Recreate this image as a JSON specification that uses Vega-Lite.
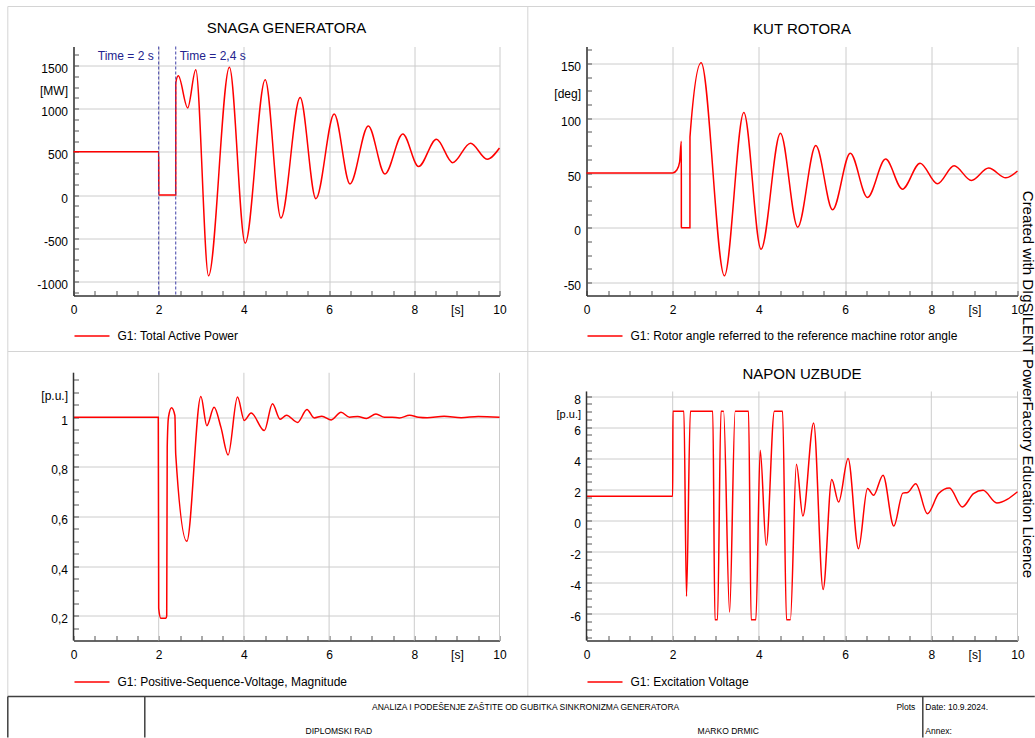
{
  "$schema": "https://vega.github.io/schema/vega-lite/v6.json",
  "padding": {"left": 6.5, "top": 5.5, "right": 0, "bottom": 0},
  "autosize": {"type": "pad"},
  "bounds": "flush",
  "columns": 2,
  "align": {"row": "each", "column": "each"},
  "spacing": {"row": 56, "column": 87},
  "resolve": {"scale": {"color": "independent", "x": "independent", "y": "independent"}, "legend": {"color": "independent"}},
  "config": {
    "view": {"stroke": null},
    "font": "Liberation Sans",
    "axis": {"labelFont": "Liberation Sans", "labelFontSize": 12, "labelColor": "#000000", "domainColor": "#333333", "domainWidth": 1.5, "gridColor": "#cccccc", "gridWidth": 1, "tickColor": "#555555", "tickWidth": 1},
    "title": {"font": "Liberation Sans", "fontSize": 15, "fontWeight": "normal", "color": "#000000", "anchor": "middle"},
    "legend": {"labelFont": "Liberation Sans", "labelFontSize": 12, "labelColor": "#000000", "labelLimit": 0}
  },
  "concat": [
    {
      "width": 426, "height": 249,
      "title": {"text": "SNAGA GENERATORA", "offset": 10},
      "resolve": {"axis": {"x": "independent", "y": "independent"}},
      "layer": [
        {
          "data": {"values": [
            {"t":0,"v":500},{"t":2,"v":500},{"t":2.001,"v":0},{"t":2.4,"v":0},{"t":2.401,"v":1300},{"t":2.46,"v":1380},{"t":2.68,"v":1009},{"t":2.87,"v":1450},{"t":3.17,"v":-935},{"t":3.66,"v":1480},{"t":4.03,"v":-557},{"t":4.5,"v":1334},{"t":4.87,"v":-267},{"t":5.32,"v":1129},{"t":5.69,"v":-43},{"t":6.12,"v":939},{"t":6.49,"v":128},{"t":6.92,"v":800},{"t":7.31,"v":244},{"t":7.73,"v":707},{"t":8.1,"v":329},{"t":8.52,"v":646},{"t":8.9,"v":375},{"t":9.32,"v":599},{"t":9.71,"v":414},{"t":10,"v":545}
          ]},
          "mark": {"type": "line", "interpolate": "monotone", "strokeWidth": 1.5},
          "encoding": {
            "x": {"field": "t", "type": "quantitative", "scale": {"domain": [0, 10], "nice": false, "zero": false},
              "axis": {"orient": "bottom", "values": [0,2,4,6,8,9,10], "labelExpr": "datum.value == 9 ? '[s]' : toString(datum.value)", "grid": true, "gridOpacity": {"condition": {"test": "datum.value == 9", "value": 0}, "value": 1}, "ticks": false, "labelPadding": 9, "labelFlush": false, "labelOverlap": false, "title": null}},
            "y": {"field": "v", "type": "quantitative", "scale": {"domain": [-1164, 1720], "nice": false, "zero": false},
              "axis": {"orient": "left", "values": [-1000,-500,0,500,1000,1250,1500], "labelExpr": "datum.value == 1250 ? '[MW]' : toString(datum.value)", "grid": true, "gridOpacity": {"condition": {"test": "datum.value == 1250", "value": 0}, "value": 1}, "ticks": false, "labelPadding": 6, "labelOffset": 3, "labelFlush": false, "labelOverlap": false, "title": null}},
            "color": {"datum": "G1: Total Active Power", "scale": {"range": ["#ff0000"]},
              "legend": {"orient": "none", "legendX": 0, "legendY": 271, "title": null, "symbolType": "stroke", "symbolSize": 1225, "symbolStrokeWidth": 1.5, "labelOffset": 7, "padding": 0}}
          }
        },
        {
          "data": {"values": [{}]},
          "mark": {"type": "point", "opacity": 0},
          "encoding": {
            "x": {"datum": 5, "type": "quantitative", "axis": {"orient": "bottom", "values": [0,0.5,1,1.5,2,2.5,3,3.5,4,4.5,5,5.5,6,6.5,7,7.5,8,8.5,9,9.5,10], "labels": false, "domain": false, "grid": false, "ticks": true, "tickSize": -5, "title": null}},
            "y": {"datum": 0, "type": "quantitative", "axis": {"orient": "left", "values": [-1125,-1000,-875,-750,-625,-500,-375,-250,-125,0,125,250,375,500,625,750,875,1000,1125,1250,1375,1500,1625], "labels": false, "domain": false, "grid": false, "ticks": true, "tickSize": -5, "title": null}}
          }
        },
        {
          "data": {"values": [{"t": 2}, {"t": 2.4}]},
          "mark": {"type": "rule", "color": "#4040a8", "strokeWidth": 1, "strokeDash": [3, 2]},
          "encoding": {"x": {"field": "t", "type": "quantitative", "axis": null}}
        },
        {
          "data": {"values": [{"t": 2, "v": 1608, "label": "Time = 2 s"}]},
          "mark": {"type": "text", "align": "right", "baseline": "middle", "dx": -5, "fontSize": 12, "color": "#23238e"},
          "encoding": {"x": {"field": "t", "type": "quantitative", "axis": null}, "y": {"field": "v", "type": "quantitative", "axis": null}, "text": {"field": "label"}}
        },
        {
          "data": {"values": [{"t": 2.4, "v": 1608, "label": "Time = 2,4 s"}]},
          "mark": {"type": "text", "align": "left", "baseline": "middle", "dx": 4, "fontSize": 12, "color": "#23238e"},
          "encoding": {"x": {"field": "t", "type": "quantitative", "axis": null}, "y": {"field": "v", "type": "quantitative", "axis": null}, "text": {"field": "label"}}
        }
      ]
    },
    {
      "width": 431, "height": 249,
      "title": {"text": "KUT ROTORA", "offset": 10},
      "resolve": {"axis": {"x": "independent", "y": "independent"}},
      "layer": [
        {
          "data": {"values": [
            {"t":0,"v":50},{"t":2,"v":50},{"t":2.1,"v":53},{"t":2.16,"v":60},{"t":2.2,"v":79},{"t":2.201,"v":0},{"t":2.4,"v":0},{"t":2.401,"v":83},{"t":2.66,"v":150.6},{"t":3.2,"v":-43.8},{"t":3.65,"v":105.3},{"t":4.05,"v":-19.5},{"t":4.5,"v":86.4},{"t":4.9,"v":0.6},{"t":5.32,"v":75.1},{"t":5.71,"v":16.4},{"t":6.12,"v":68.1},{"t":6.52,"v":27.7},{"t":6.94,"v":62.7},{"t":7.33,"v":35.3},{"t":7.74,"v":59},{"t":8.14,"v":40.2},{"t":8.53,"v":56.6},{"t":8.93,"v":43.2},{"t":9.33,"v":54.5},{"t":9.73,"v":45.6},{"t":10,"v":51.8}
          ]},
          "mark": {"type": "line", "interpolate": "monotone", "strokeWidth": 1.5},
          "encoding": {
            "x": {"field": "t", "type": "quantitative", "scale": {"domain": [0, 10], "nice": false, "zero": false},
              "axis": {"orient": "bottom", "values": [0,2,4,6,8,9,10], "labelExpr": "datum.value == 9 ? '[s]' : toString(datum.value)", "grid": true, "gridOpacity": {"condition": {"test": "datum.value == 9", "value": 0}, "value": 1}, "ticks": false, "labelPadding": 9, "labelFlush": false, "labelOverlap": false, "title": null}},
            "y": {"field": "v", "type": "quantitative", "scale": {"domain": [-61.8, 165.5], "nice": false, "zero": false},
              "axis": {"orient": "left", "values": [-50,0,50,100,125,150], "labelExpr": "datum.value == 125 ? '[deg]' : toString(datum.value)", "grid": true, "gridOpacity": {"condition": {"test": "datum.value == 125", "value": 0}, "value": 1}, "ticks": false, "labelPadding": 6, "labelOffset": 3, "labelFlush": false, "labelOverlap": false, "title": null}},
            "color": {"datum": "G1: Rotor angle referred to the reference machine rotor angle", "scale": {"range": ["#ff0000"]},
              "legend": {"orient": "none", "legendX": 0, "legendY": 271, "title": null, "symbolType": "stroke", "symbolSize": 1225, "symbolStrokeWidth": 1.5, "labelOffset": 7, "padding": 0}}
          }
        },
        {
          "data": {"values": [{}]},
          "mark": {"type": "point", "opacity": 0},
          "encoding": {
            "x": {"datum": 5, "type": "quantitative", "axis": {"orient": "bottom", "values": [0,0.5,1,1.5,2,2.5,3,3.5,4,4.5,5,5.5,6,6.5,7,7.5,8,8.5,9,9.5,10], "labels": false, "domain": false, "grid": false, "ticks": true, "tickSize": -5, "title": null}},
            "y": {"datum": 0, "type": "quantitative", "axis": {"orient": "left", "values": [-50,-37.5,-25,-12.5,0,12.5,25,37.5,50,62.5,75,87.5,100,112.5,125,137.5,150,162.5], "labels": false, "domain": false, "grid": false, "ticks": true, "tickSize": -5, "title": null}}
          }
        }
      ]
    },
    {
      "width": 426, "height": 289,
      "resolve": {"axis": {"x": "independent", "y": "independent"}},
      "layer": [
        {
          "data": {"values": [{"g": 0}, {"g": 2}, {"g": 4}, {"g": 6}, {"g": 8}, {"g": 10}]},
          "mark": {"type": "rule", "color": "#cccccc", "strokeWidth": 1},
          "encoding": {"x": {"field": "g", "type": "quantitative", "axis": null}, "y": {"datum": 0.1005, "type": "quantitative", "axis": null}, "y2": {"datum": 1.179}}
        },
        {
          "data": {"values": [
            {"t":0,"v":1},{"t":1.99,"v":1},{"t":2.0,"v":0.23},{"t":2.05,"v":0.19},{"t":2.17,"v":0.19},{"t":2.188,"v":0.2},{"t":2.2,"v":0.88},{"t":2.23,"v":1.0},{"t":2.3,"v":1.038},{"t":2.38,"v":1.007},{"t":2.4,"v":0.85},{"t":2.66,"v":0.5},{"t":2.99,"v":1.083},{"t":3.13,"v":0.966},{"t":3.3,"v":1.04},{"t":3.46,"v":0.96},{"t":3.63,"v":0.848},{"t":3.85,"v":1.081},{"t":4.01,"v":0.987},{"t":4.17,"v":1.017},{"t":4.48,"v":0.946},{"t":4.67,"v":1.054},{"t":4.85,"v":0.992},{"t":5.0,"v":1.008},{"t":5.26,"v":0.979},{"t":5.48,"v":1.031},{"t":5.65,"v":0.997},{"t":5.83,"v":1.004},{"t":6.05,"v":0.989},{"t":6.28,"v":1.02},{"t":6.48,"v":1.0},{"t":6.67,"v":1.003},{"t":6.88,"v":0.995},{"t":7.1,"v":1.013},{"t":7.3,"v":1.0},{"t":7.48,"v":1.0},{"t":7.65,"v":0.997},{"t":7.89,"v":1.008},{"t":8.1,"v":1.0},{"t":8.3,"v":0.998},{"t":8.7,"v":1.004},{"t":9.1,"v":0.998},{"t":9.5,"v":1.003},{"t":10,"v":1.0}
          ]},
          "mark": {"type": "line", "interpolate": "monotone", "strokeWidth": 1.5},
          "encoding": {
            "x": {"field": "t", "type": "quantitative", "scale": {"domain": [0, 10], "nice": false, "zero": false},
              "axis": {"orient": "bottom", "values": [0,2,4,6,8,9,10], "labelExpr": "datum.value == 9 ? '[s]' : toString(datum.value)", "grid": false, "ticks": false, "labelPadding": 9, "labelFlush": false, "labelOverlap": false, "title": null}},
            "y": {"field": "v", "type": "quantitative", "scale": {"domain": [0.1005, 1.2647], "nice": false, "zero": false},
              "axis": {"orient": "left", "values": [0.2,0.4,0.6,0.8,1,1.1], "labelExpr": "datum.value == 1.1 ? '[p.u.]' : replace(toString(datum.value), '.', ',')", "grid": true, "gridOpacity": {"condition": {"test": "datum.value == 1.1", "value": 0}, "value": 1}, "domain": false, "ticks": false, "labelPadding": 6, "labelOffset": 3, "labelFlush": false, "labelOverlap": false, "title": null}},
            "color": {"datum": "G1: Positive-Sequence-Voltage, Magnitude", "scale": {"range": ["#ff0000"]},
              "legend": {"orient": "none", "legendX": 0, "legendY": 312, "title": null, "symbolType": "stroke", "symbolSize": 1225, "symbolStrokeWidth": 1.5, "labelOffset": 7, "padding": 0}}
          }
        },
        {
          "data": {"values": [{}]},
          "mark": {"type": "rule", "color": "#333333", "strokeWidth": 1.5},
          "encoding": {"x": {"datum": 0, "type": "quantitative", "axis": {"orient": "bottom", "values": [0,0.5,1,1.5,2,2.5,3,3.5,4,4.5,5,5.5,6,6.5,7,7.5,8,8.5,9,9.5,10], "labels": false, "domain": false, "grid": false, "ticks": true, "tickSize": -5, "title": null}},
            "y": {"datum": 0.1005, "type": "quantitative", "axis": {"orient": "left", "values": [0.15,0.2,0.25,0.3,0.35,0.4,0.45,0.5,0.55,0.6,0.65,0.7,0.75,0.8,0.85,0.9,0.95,1,1.05,1.1,1.15], "labels": false, "domain": false, "grid": false, "ticks": true, "tickSize": -5, "title": null}},
            "y2": {"datum": 1.179}}
        }
      ]
    },
    {
      "width": 431, "height": 289,
      "title": {"text": "NAPON UZBUDE", "offset": -30},
      "resolve": {"axis": {"x": "independent", "y": "independent"}},
      "layer": [
        {
          "data": {"values": [{"g": 0}, {"g": 2}, {"g": 4}, {"g": 6}, {"g": 8}, {"g": 10}]},
          "mark": {"type": "rule", "color": "#cccccc", "strokeWidth": 1},
          "encoding": {"x": {"field": "g", "type": "quantitative", "axis": null}, "y": {"datum": -7.71, "type": "quantitative", "axis": null}, "y2": {"datum": 8.29}}
        },
        {
          "data": {"values": [
            {"t":0,"v":1.56},{"t":2,"v":1.56},{"t":2.005,"v":7.02},{"t":2.26,"v":7.02},{"t":2.32,"v":-4.87},{"t":2.41,"v":7.02},{"t":2.93,"v":7.02},{"t":2.98,"v":-6.37},{"t":3.04,"v":-6.37},{"t":3.12,"v":7.02},{"t":3.18,"v":7.02},{"t":3.32,"v":-5.88},{"t":3.45,"v":7.02},{"t":3.76,"v":7.02},{"t":3.82,"v":-6.37},{"t":3.93,"v":-6.37},{"t":4.03,"v":4.51},{"t":4.17,"v":-1.59},{"t":4.36,"v":7.02},{"t":4.55,"v":7.02},{"t":4.64,"v":-6.37},{"t":4.73,"v":-6.37},{"t":4.87,"v":3.61},{"t":5.02,"v":0.29},{"t":5.27,"v":6.27},{"t":5.49,"v":-4.44},{"t":5.69,"v":2.63},{"t":5.85,"v":1.19},{"t":6.07,"v":3.98},{"t":6.31,"v":-1.81},{"t":6.52,"v":2.05},{"t":6.66,"v":1.62},{"t":6.88,"v":2.91},{"t":7.13,"v":-0.35},{"t":7.34,"v":1.76},{"t":7.45,"v":1.8},{"t":7.64,"v":2.37},{"t":7.91,"v":0.44},{"t":8.17,"v":1.73},{"t":8.42,"v":2.09},{"t":8.72,"v":0.87},{"t":8.98,"v":1.73},{"t":9.2,"v":1.94},{"t":9.52,"v":1.13},{"t":10,"v":1.85}
          ]},
          "mark": {"type": "line", "interpolate": "monotone", "strokeWidth": 1.5},
          "encoding": {
            "x": {"field": "t", "type": "quantitative", "scale": {"domain": [0, 10], "nice": false, "zero": false},
              "axis": {"orient": "bottom", "values": [0,2,4,6,8,9,10], "labelExpr": "datum.value == 9 ? '[s]' : toString(datum.value)", "grid": false, "ticks": false, "labelPadding": 9, "labelFlush": false, "labelOverlap": false, "title": null}},
            "y": {"field": "v", "type": "quantitative", "scale": {"domain": [-7.71, 10.86], "nice": false, "zero": false},
              "axis": {"orient": "left", "values": [-6,-4,-2,0,2,4,6,7,8], "labelExpr": "datum.value == 7 ? '[p.u.]' : toString(datum.value)", "labelFontSize": {"condition": {"test": "datum.value == 7", "value": 11}, "value": 12}, "grid": true, "gridOpacity": {"condition": {"test": "datum.value == 7", "value": 0}, "value": 1}, "domain": false, "ticks": false, "labelPadding": 6, "labelOffset": 3, "labelFlush": false, "labelOverlap": false, "title": null}},
            "color": {"datum": "G1: Excitation Voltage", "scale": {"range": ["#ff0000"]},
              "legend": {"orient": "none", "legendX": 0, "legendY": 312, "title": null, "symbolType": "stroke", "symbolSize": 1225, "symbolStrokeWidth": 1.5, "labelOffset": 7, "padding": 0}}
          }
        },
        {
          "data": {"values": [{}]},
          "mark": {"type": "rule", "color": "#333333", "strokeWidth": 1.5},
          "encoding": {"x": {"datum": 0, "type": "quantitative", "axis": {"orient": "bottom", "values": [0,0.5,1,1.5,2,2.5,3,3.5,4,4.5,5,5.5,6,6.5,7,7.5,8,8.5,9,9.5,10], "labels": false, "domain": false, "grid": false, "ticks": true, "tickSize": -5, "title": null}},
            "y": {"datum": -7.71, "type": "quantitative", "axis": {"orient": "left", "values": [-7.5,-7,-6.5,-6,-5.5,-5,-4.5,-4,-3.5,-3,-2.5,-2,-1.5,-1,-0.5,0,0.5,1,1.5,2,2.5,3,3.5,4,4.5,5,5.5,6,6.5,7,7.5,8], "labels": false, "domain": false, "grid": false, "ticks": true, "tickSize": -5, "title": null}},
            "y2": {"datum": 8.29}}
        }
      ]
    },
    {
      "width": 1, "height": 42,
      "layer": [
        {
          "data": {"values": [
            {"x1": 7, "y1": 6, "x2": 1034, "y2": 6},
            {"x1": 7, "y1": 6, "x2": 7, "y2": 696},
            {"x1": 7, "y1": 351, "x2": 1034, "y2": 351},
            {"x1": 527, "y1": 6, "x2": 527, "y2": 696}
          ]},
          "mark": {"type": "rule", "color": "#d4d4d4", "strokeWidth": 1},
          "encoding": {
            "x": {"field": "x1", "type": "quantitative", "scale": {"domain": [72.7, 73.7], "nice": false, "zero": false}, "axis": null},
            "x2": {"field": "x2"},
            "y": {"field": "y1", "type": "quantitative", "scale": {"domain": [696, 738], "nice": false, "zero": false, "reverse": true}, "axis": null},
            "y2": {"field": "y2"}
          }
        },
        {
          "data": {"values": [
            {"x1": 7, "y1": 696, "x2": 1034, "y2": 696},
            {"x1": 7, "y1": 696, "x2": 7, "y2": 737},
            {"x1": 144, "y1": 696, "x2": 144, "y2": 737},
            {"x1": 922, "y1": 696, "x2": 922, "y2": 737}
          ]},
          "mark": {"type": "rule", "color": "#404040", "strokeWidth": 1.5},
          "encoding": {
            "x": {"field": "x1", "type": "quantitative", "axis": null},
            "x2": {"field": "x2"},
            "y": {"field": "y1", "type": "quantitative", "axis": null},
            "y2": {"field": "y2"}
          }
        },
        {
          "data": {"values": [
            {"x": 524.8, "y": 706, "label": "ANALIZA I PODEŠENJE ZAŠTITE OD GUBITKA SINKRONIZMA GENERATORA"},
            {"x": 338, "y": 730, "label": "DIPLOMSKI RAD"},
            {"x": 727.5, "y": 730, "label": "MARKO DRMIC"}
          ]},
          "mark": {"type": "text", "align": "center", "baseline": "middle", "fontSize": 8.5, "color": "#000000"},
          "encoding": {"x": {"field": "x", "type": "quantitative", "axis": null}, "y": {"field": "y", "type": "quantitative", "axis": null}, "text": {"field": "label"}}
        },
        {
          "data": {"values": [{"x": 914.5, "y": 706, "label": "Plots"}]},
          "mark": {"type": "text", "align": "right", "baseline": "middle", "fontSize": 8.5, "color": "#000000"},
          "encoding": {"x": {"field": "x", "type": "quantitative", "axis": null}, "y": {"field": "y", "type": "quantitative", "axis": null}, "text": {"field": "label"}}
        },
        {
          "data": {"values": [{"x": 924.5, "y": 706, "label": "Date: 10.9.2024."}, {"x": 924.5, "y": 730, "label": "Annex:"}]},
          "mark": {"type": "text", "align": "left", "baseline": "middle", "fontSize": 8.5, "color": "#000000"},
          "encoding": {"x": {"field": "x", "type": "quantitative", "axis": null}, "y": {"field": "y", "type": "quantitative", "axis": null}, "text": {"field": "label"}}
        },
        {
          "data": {"values": [{"x": 1022.5, "y": 384, "label": "Created with DIgSILENT PowerFactory Education Licence"}]},
          "mark": {"type": "text", "align": "center", "baseline": "alphabetic", "angle": 90, "fontSize": 15, "color": "#000000"},
          "encoding": {"x": {"field": "x", "type": "quantitative", "axis": null}, "y": {"field": "y", "type": "quantitative", "axis": null}, "text": {"field": "label"}}
        }
      ]
    }
  ]
}
